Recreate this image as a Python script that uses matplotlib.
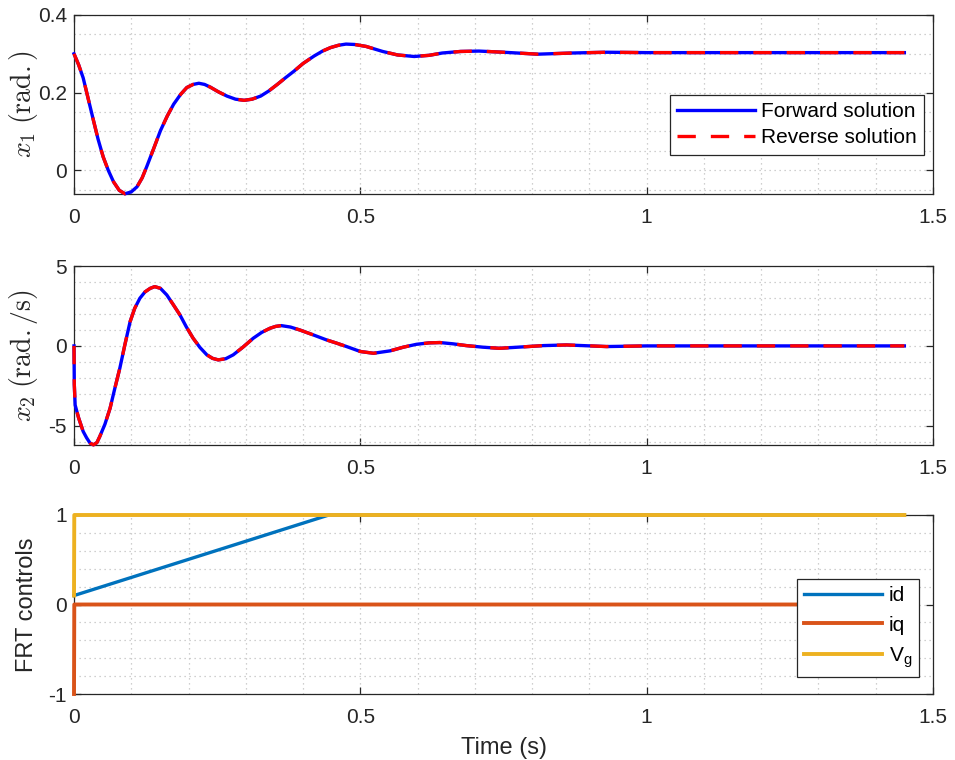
import matplotlib
matplotlib.use("Agg")
import matplotlib.pyplot as plt
from matplotlib.ticker import MultipleLocator

plt.rcParams['font.family'] = ['Liberation Sans', 'DejaVu Sans']
plt.rcParams['mathtext.fontset'] = 'custom'
plt.rcParams['mathtext.rm'] = 'Liberation Sans'
plt.rcParams['mathtext.it'] = 'Liberation Sans:italic'
plt.rcParams['axes.unicode_minus'] = False

# ---------------- data ----------------
t_x1 = [0, 0.008, 0.016, 0.025, 0.034, 0.042, 0.051, 0.06, 0.069, 0.079, 0.089, 0.1, 0.11,
        0.119, 0.127, 0.139, 0.151, 0.163, 0.174, 0.186, 0.197, 0.208, 0.218, 0.228, 0.238,
        0.252, 0.267, 0.282, 0.297, 0.311, 0.326, 0.34, 0.355, 0.37, 0.384, 0.4, 0.419,
        0.434, 0.448, 0.462, 0.475, 0.49, 0.51, 0.539, 0.565, 0.594, 0.62, 0.643, 0.675,
        0.707, 0.75, 0.81, 0.87, 0.93, 1.0, 1.1, 1.2, 1.3, 1.45]
x1_fwd = [0.3, 0.272, 0.238, 0.183, 0.128, 0.08, 0.034, -0.001, -0.03, -0.052, -0.061, -0.056, -0.043,
          -0.02, 0.009, 0.055, 0.102, 0.14, 0.17, 0.195, 0.213, 0.221, 0.224, 0.221, 0.214,
          0.202, 0.191, 0.183, 0.180, 0.183, 0.191, 0.204, 0.221, 0.239, 0.255, 0.275, 0.294,
          0.307, 0.316, 0.322, 0.325, 0.324, 0.319, 0.306, 0.297, 0.293, 0.296, 0.302, 0.306,
          0.307, 0.304, 0.299, 0.302, 0.304, 0.303, 0.303, 0.303, 0.303, 0.303]
x1_rev = list(x1_fwd)

t_x2 = [0, 0.0005, 0.002, 0.008, 0.016, 0.022, 0.028, 0.034, 0.04, 0.045, 0.054, 0.063, 0.071,
        0.08, 0.089, 0.098, 0.106, 0.115, 0.124, 0.133, 0.141, 0.151, 0.162, 0.173, 0.185,
        0.196, 0.208, 0.22, 0.232, 0.242, 0.252, 0.265, 0.278, 0.295, 0.313, 0.328, 0.342,
        0.352, 0.362, 0.378, 0.394, 0.417, 0.441, 0.458, 0.476, 0.5, 0.523, 0.552, 0.575,
        0.598, 0.62, 0.639, 0.662, 0.685, 0.714, 0.743, 0.784, 0.82, 0.86, 0.93, 1.0, 1.2, 1.45]
x2_fwd = [0, -2.4, -3.7, -4.5, -5.35, -5.75, -6.08, -6.19, -6.05, -5.67, -4.9, -3.9, -2.7,
          -1.4, 0.1, 1.52, 2.35, 2.98, 3.38, 3.6, 3.71, 3.6, 3.19, 2.6, 1.94,
          1.2, 0.48, -0.1, -0.56, -0.78, -0.875, -0.8, -0.56, -0.08, 0.48, 0.85, 1.1,
          1.22, 1.27, 1.18, 1.0, 0.7, 0.375, 0.18, -0.04, -0.35, -0.46, -0.31, -0.08,
          0.1, 0.19, 0.21, 0.13, 0.02, -0.08, -0.15, -0.06, 0.02, 0.06, -0.04, 0, 0, 0]
x2_rev = list(x2_fwd)

t_id = [0, 0.445, 1.45]
id_vals = [0.1, 1, 1]
t_iq = [0, 0.0005, 1.45]
iq_vals = [-1, 0, 0]
t_vg = [0, 0.0005, 1.45]
vg_vals = [0.1, 1, 1]

xticks = [0, 0.5, 1, 1.5]
xtick_labels = ['0', '0.5', '1', '1.5']

# ---------------- figure ----------------
W, H = 955, 760
fig = plt.figure(figsize=(W / 100, H / 100), dpi=100)
LEFT, RIGHT = 74, 933

def ax_at(top_px, bottom_px):
    return fig.add_axes([LEFT / W, (H - bottom_px) / H, (RIGHT - LEFT) / W, (bottom_px - top_px) / H])

ax1 = ax_at(15, 194)
ax2 = ax_at(266, 445)
ax3 = ax_at(515, 694)

TXT = '#262626'

def style(ax, yticks, yminor):
    ax.set_xlim(0, 1.5)
    ax.set_xticks(xticks)
    ax.set_xticklabels(xtick_labels)
    ax.set_yticks(yticks)
    ax.set_yticklabels([('%g' % v) for v in yticks])
    ax.xaxis.set_minor_locator(MultipleLocator(0.1))
    ax.yaxis.set_minor_locator(MultipleLocator(yminor))
    ax.grid(True, which='both', linestyle=(0, (1, 3)), color='#c0c0c0', linewidth=0.9)
    ax.set_axisbelow(True)
    ax.tick_params(which='major', direction='in', top=True, right=True, length=5,
                   width=0.9, colors=TXT, labelsize=15)
    ax.tick_params(axis='x', which='major', pad=10)
    ax.tick_params(axis='y', which='major', pad=5)
    ax.tick_params(which='minor', length=0)
    for s in ax.spines.values():
        s.set_color(TXT)
        s.set_linewidth(0.9)
        s.set_zorder(1.5)

def label_x(px_center):
    return (px_center - LEFT) / (RIGHT - LEFT)

# top panel
ax1.plot(t_x1, x1_fwd, color='#0000ff', lw=2.4, label='Forward solution', clip_on=False)
ax1.plot(t_x1, x1_rev, color='#ff0000', lw=2.4, dashes=(5.5, 4.5), label='Reverse solution', clip_on=False)
ax1.set_ylim(-0.0615, 0.4)
style(ax1, [0, 0.2, 0.4], 0.05)
ax1.set_ylabel(r'$x_1\;(\mathrm{rad.})$', fontsize=20, math_fontfamily='cm', color=TXT,
               va='center')
ax1.yaxis.set_label_coords(label_x(24), 0.5)
leg1 = ax1.legend(loc='lower right', bbox_to_anchor=(0.99, 0.22), fontsize=15, handlelength=3.75,
                  frameon=True, fancybox=False, edgecolor=TXT, framealpha=1,
                  borderpad=0.35, labelspacing=0.35, handletextpad=0.3, borderaxespad=0)
leg1.get_frame().set_linewidth(0.9)

# middle panel
ax2.plot(t_x2, x2_fwd, color='#0000ff', lw=2.4, clip_on=False)
ax2.plot(t_x2, x2_rev, color='#ff0000', lw=2.4, dashes=(5.5, 4.5), clip_on=False)
ax2.set_ylim(-6.2, 5)
style(ax2, [-5, 0, 5], 1)
ax2.set_ylabel(r'$x_2\;(\mathrm{rad./s})$', fontsize=20, math_fontfamily='cm', color=TXT,
               va='center')
ax2.yaxis.set_label_coords(label_x(24), 0.5)

# bottom panel
ax3.plot(t_id, id_vals, color='#0072BD', lw=2.4, label='id', clip_on=False)
ax3.plot(t_iq, iq_vals, color='#D95319', lw=2.8, label='iq', clip_on=False)
ax3.plot(t_vg, vg_vals, color='#EDB120', lw=2.8, label=r'V$_\mathrm{g}$', clip_on=False)
ax3.set_ylim(-1, 1)
style(ax3, [-1, 0, 1], 0.2)
ax3.set_ylabel('FRT controls', fontsize=17, color=TXT, va='center')
ax3.yaxis.set_label_coords(label_x(27), 0.5)
ax3.set_xlabel('Time (s)', fontsize=17, color=TXT, labelpad=7)
leg3 = ax3.legend(loc='lower right', bbox_to_anchor=(0.984, 0.095), fontsize=15, handlelength=3.75,
                  frameon=True, fancybox=False, edgecolor=TXT, framealpha=1,
                  borderpad=0.35, labelspacing=0.5, handletextpad=0.3, borderaxespad=0)
leg3.get_frame().set_linewidth(0.9)

fig.savefig('out.png', dpi=100)
